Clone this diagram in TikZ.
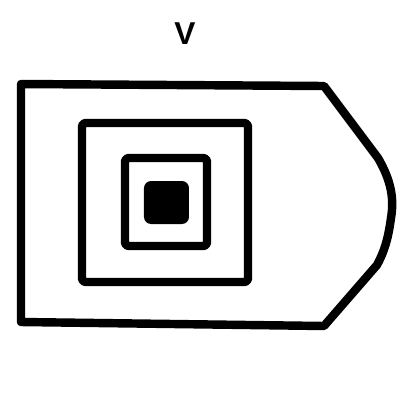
\documentclass[tikz,border=0pt]{standalone}
\usepackage{fontspec}
\setmainfont{Liberation Sans}
\begin{document}
\begin{tikzpicture}[x=0.02cm,y=-0.02cm,
  thick line/.style={line width=4.8pt,line join=round,line cap=round},
  lbl/.style={font=\fontsize{18}{20}\selectfont\bfseries,inner sep=0pt}]
\useasboundingbox (0,0) rectangle (400,400);
\node[lbl] (v) at (185,34) {V};
\draw[thick line] (21,84) -- (324,86) -- (378,158)
  .. controls (392,182) and (394,200) .. (391,218)
  .. controls (388,240) and (384,252) .. (377,265)
  -- (324,326) -- (21,322) -- cycle;
\draw[thick line,rounded corners=2pt] (82,123) rectangle (248,282);
\draw[thick line,rounded corners=2pt] (125,158) rectangle (207,246);
\fill[rounded corners=4pt] (144,181) rectangle (189,224);
\end{tikzpicture}
\end{document}
